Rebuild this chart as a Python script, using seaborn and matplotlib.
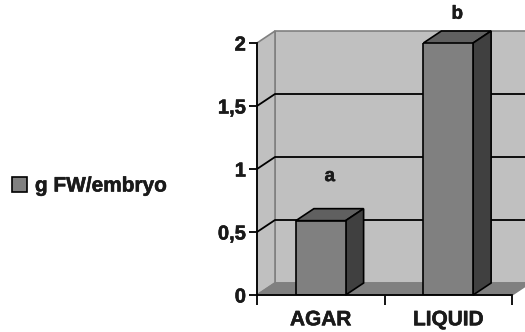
import matplotlib
matplotlib.use("Agg")
import matplotlib.pyplot as plt
import matplotlib.patheffects as pe
from matplotlib.patches import Polygon, Rectangle, Patch
import seaborn as sns
import pandas as pd

# Fresh weight per embryo for each culture medium
categories = ["AGAR", "LIQUID"]
fw_per_embryo = [0.59, 2.0]
sig_letters = ["a", "b"]
letter_offsets_pt = [17, 6]
ytick_values = [0, 0.5, 1, 1.5, 2]
ytick_labels = ["0", "0,5", "1", "1,5", "2"]
series_name = "g FW/embryo"

FRONT = "#808080"
TOP = "#606060"
SIDE = "#404040"
WALL = "#c0c0c0"
FLOOR = "#808080"
EDGE = "#808080"

sns.set_theme(style="white")
plt.rcParams["font.family"] = ["Liberation Sans", "DejaVu Sans"]
plt.rcParams["font.weight"] = "bold"

# slightly heavier strokes for the bold labels
heavy = [pe.withStroke(linewidth=0.4, foreground="#1a1a1a")]

fig = plt.figure(figsize=(5.25, 3.32), dpi=100)
ax = fig.add_axes([257 / 525, 37 / 332, 255 / 525, 252 / 332])
ax.patch.set_visible(False)

df = pd.DataFrame({"medium": categories, "fw": fw_per_embryo})
sns.barplot(data=df, x="medium", y="fw", ax=ax, color=FRONT, width=0.39,
            saturation=1, edgecolor="black", linewidth=1.2, zorder=6)
bars = list(ax.patches)

x0, x1 = -0.5, len(categories) - 0.5
y0, y1 = 0, 2
ax.set_xlim(x0, x1)
ax.set_ylim(y0, y1)

# depth of the 3-D box, in pixels, converted to data units
fig.canvas.draw()
bb = ax.get_window_extent()
depth_px = (18, 12)
dx = depth_px[0] * (x1 - x0) / bb.width
dy = depth_px[1] * (y1 - y0) / bb.height

# back wall, side wall and floor
ax.add_patch(Rectangle((x0 + dx, y0 + dy), (x1 - x0) + 2, y1 - y0,
                       facecolor=WALL, edgecolor=EDGE, lw=1.2,
                       clip_on=False, zorder=1))
ax.add_patch(Polygon([(x0, y0), (x0, y1), (x0 + dx, y1 + dy), (x0 + dx, y0 + dy)],
                     closed=True, facecolor=WALL, edgecolor=EDGE, lw=1.2,
                     clip_on=False, zorder=1))
ax.add_patch(Polygon([(x0, y0), (x1, y0), (x1 + dx, y0 + dy), (x0 + dx, y0 + dy)],
                     closed=True, facecolor=FLOOR, edgecolor=EDGE, lw=1.2,
                     clip_on=False, zorder=2))

# gridlines on the side wall and back wall
for v in ytick_values[1:-1]:
    ax.plot([x0, x0 + dx, x1 + 2], [v, v + dy, v + dy], color="black",
            lw=1.3, clip_on=False, zorder=3, solid_capstyle="butt")

# top and side faces of each column
for p in bars:
    bx, bw, bh = p.get_x(), p.get_width(), p.get_height()
    ax.add_patch(Polygon([(bx, bh), (bx + bw, bh), (bx + bw + dx, bh + dy), (bx + dx, bh + dy)],
                         closed=True, facecolor=TOP, edgecolor="black", lw=1.2,
                         clip_on=False, zorder=5))
    ax.add_patch(Polygon([(bx + bw, 0), (bx + bw + dx, dy), (bx + bw + dx, bh + dy), (bx + bw, bh)],
                         closed=True, facecolor=SIDE, edgecolor="black", lw=1.2,
                         clip_on=False, zorder=5))

# significance letters above the columns
for p, letter, off in zip(bars, sig_letters, letter_offsets_pt):
    cx = p.get_x() + p.get_width() / 2 + dx / 2
    ax.annotate(letter, (cx, p.get_height() + dy), xytext=(0, off),
                textcoords="offset points", ha="center", va="bottom",
                fontsize=13.5, fontweight="bold", annotation_clip=False,
                color="#1a1a1a", path_effects=heavy)

# axes, ticks and labels
for s in ["top", "right"]:
    ax.spines[s].set_visible(False)
for s in ["left", "bottom"]:
    ax.spines[s].set_color("black")
    ax.spines[s].set_linewidth(1.3)
    ax.spines[s].set_zorder(7)

ax.set_yticks(ytick_values)
ax.set_yticklabels(ytick_labels)
ax.set_xticks([x0 + i for i in range(len(categories) + 1)])
ax.set_xticklabels([])
ax.set_xticks(range(len(categories)), minor=True)
ax.set_xticklabels(categories, minor=True)
ax.tick_params(axis="y", direction="out", length=6, width=1.3, color="black",
               pad=2, labelsize=14.5, left=True, labelcolor="#1a1a1a")
ax.tick_params(axis="x", which="major", direction="out", length=7, width=1.3,
               color="black", bottom=True)
ax.tick_params(axis="x", which="minor", length=0, pad=11, labelsize=15,
               labelcolor="#1a1a1a")
for t in ax.get_yticklabels() + ax.get_xticklabels(minor=True):
    t.set_path_effects(heavy)
ax.set_xlabel("")
ax.set_ylabel("")

leg = fig.legend(handles=[Patch(facecolor=FRONT, edgecolor="black", lw=1.2)],
                 labels=[series_name], loc="center left",
                 bbox_to_anchor=(12 / 525, 1 - 186 / 332), frameon=False,
                 fontsize=15, handlelength=0.7, handleheight=0.7,
                 handletextpad=0.4, borderpad=0, borderaxespad=0)
for t in leg.get_texts():
    t.set_color("#1a1a1a")
    t.set_path_effects(heavy)

fig.savefig("out.png", dpi=100)
